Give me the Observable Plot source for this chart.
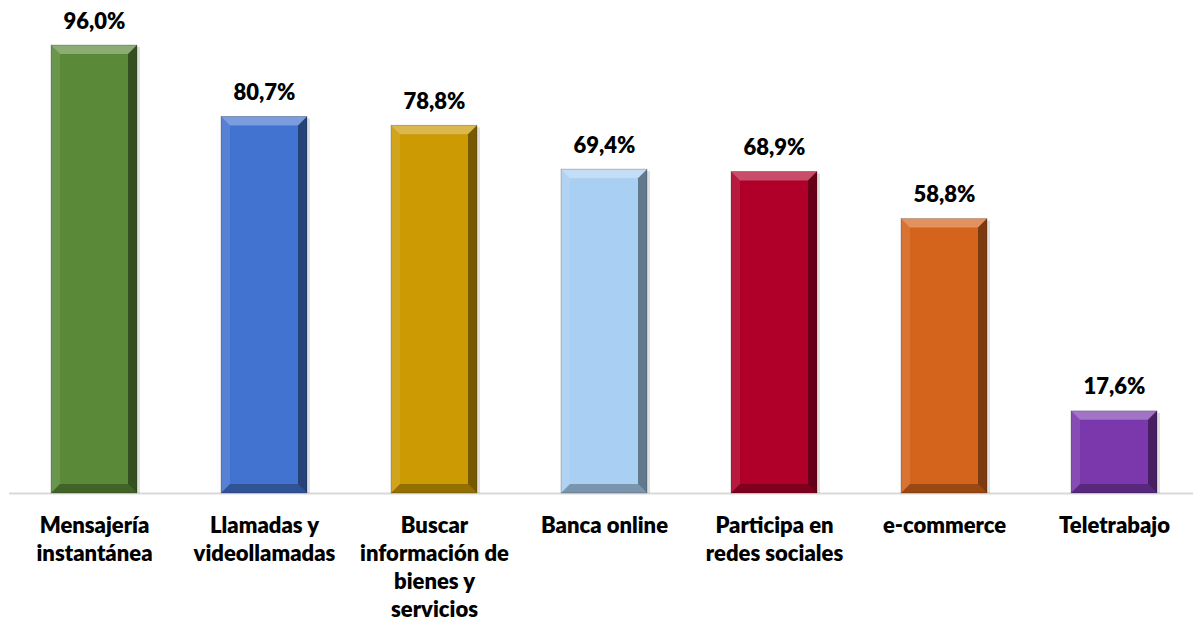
<!DOCTYPE html>
<html>
<head>
<meta charset="utf-8">
<script src="https://cdn.jsdelivr.net/npm/d3@7"></script>
<script src="https://cdn.jsdelivr.net/npm/@observablehq/plot@0.6"></script>
<style>
  html, body { margin: 0; padding: 0; background: #fff; }
  #chart svg { display: block; }
</style>
</head>
<body>
<div id="chart"></div>
<script>
// Data
const categories = ["Mensajería instantánea", "Llamadas y videollamadas", "Buscar información de bienes y servicios", "Banca online", "Participa en redes sociales", "e-commerce", "Teletrabajo"];
const tickLabels = ["Mensajería\ninstantánea", "Llamadas y\nvideollamadas", "Buscar\ninformación de\nbienes y\nservicios", "Banca online", "Participa en\nredes sociales", "e-commerce", "Teletrabajo"];
const values = [96.0, 80.7, 78.8, 69.4, 68.9, 58.8, 17.6];
const valueLabels = ["96,0%", "80,7%", "78,8%", "69,4%", "68,9%", "58,8%", "17,6%"];

const palette = ["#5a8a38", "#4373d0", "#cc9a02", "#a9cff2", "#b0002a", "#d4641c", "#7a38ac"];

const rows = categories.map((c, i) => ({category: c, value: values[i], label: valueLabels[i], tick: tickLabels[i]}));

const W = 1194, H = 623;
const FONT = "Lato, 'Open Sans', sans-serif";

const chart = Plot.plot({
  width: W,
  height: H,
  marginLeft: 9,
  marginRight: 1,
  marginTop: 0,
  marginBottom: 130,
  style: {fontFamily: FONT, background: "#fff"},
  x: {domain: categories, range: [9, 1199], paddingInner: 0.494, paddingOuter: 0.247, axis: null},
  y: {domain: [0, 100], range: [493, 26.33], axis: null},
  color: {domain: categories, range: palette},
  marks: [
    Plot.ruleY([0], {stroke: "#d9d9d9", strokeWidth: 2}),
    Plot.barY(rows, {x: "category", y: "value", fill: "category"}),
    Plot.text(rows, {x: "category", y: "value", text: "label", dy: -24, fontSize: 22, fontWeight: 800, fill: "#000", lineAnchor: "middle"}),
    Plot.text(rows, {x: "category", y: () => 0, text: "tick", dy: 19, fontSize: 22, fontWeight: 800, fill: "#000", lineAnchor: "top", lineHeight: 1.28})
  ]
});

// Bevel decoration derived from the rendered bars
const svg = d3.select(chart);
svg.selectAll('g[aria-label="bar"] rect').each(function() {
  const r = d3.select(this);
  const x = +r.attr("x"), y = +r.attr("y"), w = +r.attr("width"), h = +r.attr("height");
  const b = Math.min(9, h / 2, w / 2);
  const g = d3.select(this.parentNode);
  // soft shadow
  g.insert("rect", () => this)
    .attr("x", x + 2).attr("y", y + 2).attr("width", w + 1).attr("height", h - 2)
    .attr("fill", "#000").attr("opacity", 0.12);
  const poly = (pts, fill, op) => g.append("polygon")
    .attr("points", pts.map(p => p.join(",")).join(" "))
    .attr("fill", fill).attr("opacity", op);
  poly([[x, y], [x + w, y], [x + w - b, y + b], [x + b, y + b]], "#fff", 0.3);
  poly([[x, y], [x + b, y + b], [x + b, y + h - b], [x, y + h]], "#fff", 0.1);
  poly([[x + w, y], [x + w - b, y + b], [x + w - b, y + h - b], [x + w, y + h]], "#000", 0.42);
  poly([[x, y + h], [x + b, y + h - b], [x + w - b, y + h - b], [x + w, y + h]], "#000", 0.28);
  g.append("rect").attr("x", x).attr("y", y).attr("width", w).attr("height", h)
    .attr("fill", "none").attr("stroke", "#000").attr("stroke-opacity", 0.25).attr("stroke-width", 0.8);
});

document.getElementById("chart").appendChild(chart);
</script>
</body>
</html>
